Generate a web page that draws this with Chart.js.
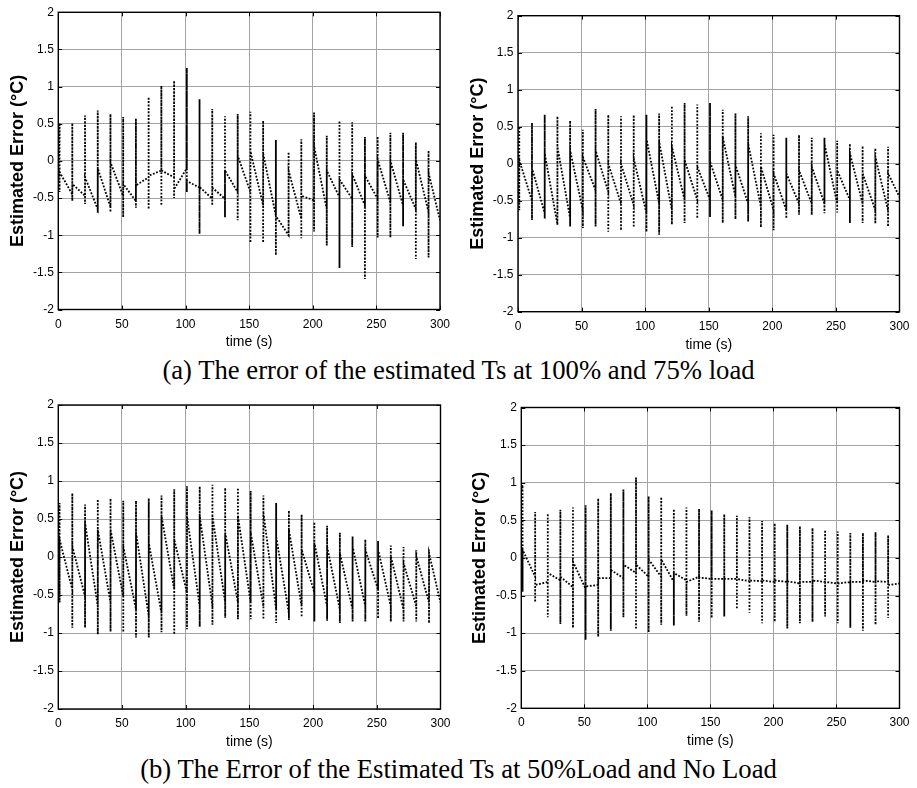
<!DOCTYPE html>
<html><head><meta charset="utf-8">
<script src="https://cdn.jsdelivr.net/npm/chart.js@4.4.1/dist/chart.umd.min.js"></script>
<style>
html,body{margin:0;padding:0;background:#fff;width:917px;height:788px;overflow:hidden;}
.panel{position:absolute;}
.cap{position:absolute;left:0;width:917px;text-align:center;font-family:'Liberation Serif','Times New Roman',serif;font-size:26.7px;line-height:26.7px;color:#000;white-space:nowrap;}
</style></head><body>
<div class="panel" id="w1"><canvas id="c1"></canvas></div>
<div class="panel" id="w2"><canvas id="c2"></canvas></div>
<div class="panel" id="w3"><canvas id="c3"></canvas></div>
<div class="panel" id="w4"><canvas id="c4"></canvas></div>
<div class="cap" style="top:356.6px">(a) The error of the estimated Ts at 100% and 75% load</div>
<div class="cap" style="top:756px">(b) The Error of the Estimated Ts at 50%Load and No Load</div>
<script>
// ---- data (time in s, error in °C) ----
const spikeTimes = [1,11,21,31,41,51,61,71,81,91,101,111,121,131,141,151,161,171,181,191,201,211,221,231,241,251,261,271,281,291];
const endTime = 300;
const xTicks = [0,50,100,150,200,250,300];
const yTicks = [-2,-1.5,-1,-0.5,0,0.5,1,1.5,2];
const xTitle = 'time (s)';
const yTitle = 'Estimated Error (°C)';

// (a) 100% load
const load100Pre    = [-0.40,-0.45,-0.47,-0.65,-0.62,-0.47,-0.54,-0.22,-0.13,-0.22,-0.10,-0.36,-0.51,-0.51,-0.42,-0.42,-0.60,-0.74,-1.00,-0.78,-0.53,-0.65,-0.49,-0.51,-0.60,-0.51,-0.56,-0.60,-0.65,-0.69];
const load100Peak   = [0.51,0.51,0.61,0.68,0.63,0.59,0.57,0.86,1.01,1.08,1.25,0.83,0.70,0.60,0.63,0.66,0.54,0.28,0.12,0.29,0.65,0.34,0.54,0.52,0.32,0.33,0.38,0.38,0.25,0.14];
const load100Trough = [-0.42,-0.54,-0.58,-0.70,-0.69,-0.76,-0.63,-0.65,-0.60,-0.50,-0.42,-0.98,-0.60,-0.76,-0.80,-1.10,-1.10,-1.27,-1.02,-1.04,-0.95,-1.14,-1.44,-1.16,-1.59,-1.03,-1.03,-0.88,-1.32,-1.30];
const load100Post   = [-0.15,-0.31,-0.22,-0.10,-0.02,-0.31,-0.33,-0.20,-0.13,-0.38,-0.27,-0.35,-0.36,-0.13,0.07,0.13,0.10,-0.74,-0.13,-0.47,0.20,-0.13,-0.25,-0.18,-0.20,0.02,0.00,-0.25,0.02,-0.16];
const load100End = -0.80;

// (a) 75% load
const load75Pre    = [-0.50,-0.50,-0.67,-0.82,-0.74,-0.63,-0.36,-0.38,-0.54,-0.56,-0.67,-0.54,-0.63,-0.49,-0.49,-0.49,-0.49,-0.45,-0.54,-0.58,-0.63,-0.63,-0.54,-0.54,-0.54,-0.54,-0.49,-0.54,-0.63,-0.63];
const load75Peak   = [0.50,0.55,0.66,0.64,0.58,0.46,0.74,0.66,0.64,0.66,0.66,0.68,0.78,0.82,0.80,0.82,0.73,0.68,0.64,0.41,0.39,0.35,0.39,0.35,0.35,0.31,0.27,0.24,0.21,0.23];
const load75Trough = [-0.63,-0.76,-0.74,-0.83,-0.85,-0.87,-0.85,-0.92,-0.90,-0.86,-0.92,-0.96,-0.82,-0.80,-0.74,-0.72,-0.80,-0.75,-0.78,-0.86,-0.90,-0.74,-0.69,-0.69,-0.67,-0.66,-0.80,-0.80,-0.81,-0.85];
const load75Post   = [0.05,-0.06,0.14,0.23,0.18,0.09,0.18,0.00,0.00,0.07,0.34,0.30,0.23,0.05,-0.04,0.03,0.36,-0.02,0.27,-0.04,-0.13,-0.13,-0.09,-0.04,0.27,-0.09,0.14,-0.13,0.09,-0.13];
const load75End = -0.45;

// (b) 50% load
const load50Pre    = [-0.55,-0.43,-0.52,-0.65,-0.60,-0.52,-0.69,-0.78,-0.74,-0.43,-0.47,-0.65,-0.65,-0.60,-0.60,-0.60,-0.65,-0.69,-0.74,-0.65,-0.47,-0.65,-0.69,-0.69,-0.65,-0.43,-0.65,-0.69,-0.65,-0.60];
const load50Peak   = [0.71,0.84,0.69,0.76,0.77,0.74,0.74,0.77,0.81,0.89,0.93,0.93,0.95,0.91,0.91,0.87,0.81,0.71,0.61,0.56,0.46,0.41,0.32,0.27,0.23,0.21,0.15,0.13,0.09,0.10];
const load50Trough = [-0.60,-0.93,-0.93,-1.02,-0.98,-0.99,-1.06,-1.06,-0.99,-1.02,-0.95,-0.92,-0.89,-0.80,-0.82,-0.82,-0.82,-0.87,-0.83,-0.79,-0.85,-0.84,-0.87,-0.85,-0.85,-0.81,-0.85,-0.85,-0.85,-0.87];
const load50Post   = [0.23,0.14,0.45,0.36,0.36,0.14,0.32,0.19,0.54,0.23,0.54,0.54,0.54,0.32,0.54,0.32,0.58,0.27,0.36,0.10,0.19,0.14,0.05,0.14,0.10,0.10,0.01,-0.08,0.01,0.05];
const load50End = -0.60;

// (b) no load
const noLoadPre    = [0.90,-0.25,-0.32,-0.30,-0.39,-0.41,-0.36,-0.27,-0.27,-0.20,-0.25,-0.25,-0.32,-0.30,-0.25,-0.28,-0.28,-0.28,-0.31,-0.31,-0.32,-0.32,-0.34,-0.32,-0.32,-0.34,-0.32,-0.32,-0.32,-0.32];
const noLoadPeak   = [0.97,0.61,0.59,0.64,0.67,0.70,0.79,0.86,0.91,1.07,0.82,0.81,0.65,0.67,0.65,0.63,0.58,0.56,0.54,0.49,0.46,0.44,0.42,0.40,0.37,0.35,0.33,0.33,0.34,0.30];
const noLoadTrough = [-0.45,-0.59,-0.79,-0.88,-0.93,-1.09,-1.05,-0.97,-0.79,-0.95,-0.99,-0.89,-0.90,-0.77,-0.85,-0.80,-0.78,-0.68,-0.73,-0.87,-0.85,-0.94,-0.87,-0.85,-0.78,-0.87,-0.93,-0.97,-0.89,-0.80];
const noLoadPost   = [0.11,-0.36,-0.20,-0.25,-0.05,-0.38,-0.27,-0.16,-0.09,-0.09,-0.02,-0.02,-0.20,-0.32,-0.26,-0.28,-0.28,-0.28,-0.30,-0.30,-0.30,-0.31,-0.32,-0.30,-0.32,-0.34,-0.32,-0.30,-0.31,-0.36];
const noLoadEnd = -0.34;

// ---- build the trace: decay to each spike, spike up/down, settle ----
function buildTrace(pre, peak, trough, post, endVal) {
  const pts = [{x: 0, y: pre[0]}];
  spikeTimes.forEach((t, i) => {
    if (i > 0) pts.push({x: t, y: pre[i]});
    pts.push({x: t, y: peak[i]});
    pts.push({x: t, y: trough[i]});
    pts.push({x: t, y: post[i]});
  });
  pts.push({x: endTime, y: endVal});
  return pts;
}

const framePlugin = {
  id: 'matlabFrame',
  afterDatasetsDraw(chart) {
    const {ctx, chartArea: a, scales: {x, y}} = chart;
    ctx.save();
    ctx.strokeStyle = '#000';
    ctx.lineWidth = 1;
    ctx.beginPath();
    x.ticks.forEach(t => {
      const px = Math.round(x.getPixelForValue(t.value)) + 0.5;
      ctx.moveTo(px, a.bottom); ctx.lineTo(px, a.bottom - 4);
      ctx.moveTo(px, a.top); ctx.lineTo(px, a.top + 4);
    });
    y.ticks.forEach(t => {
      const py = Math.round(y.getPixelForValue(t.value)) + 0.5;
      ctx.moveTo(a.left, py); ctx.lineTo(a.left + 4, py);
      ctx.moveTo(a.right, py); ctx.lineTo(a.right - 4, py);
    });
    ctx.stroke();
    ctx.lineWidth = 1.4;
    ctx.strokeRect(a.left, a.top, a.right - a.left, a.bottom - a.top);
    ctx.restore();
  }
};

const FONT = "'Liberation Sans', Arial, sans-serif";
const XH = 40;

function makePanel(id, boxLeft, boxTop, W, L, R, T, B, yTitleCenter, trace) {
  const wrap = document.getElementById('w' + id);
  const H = Math.ceil(B + XH + 2);
  wrap.style.left = boxLeft + 'px';
  wrap.style.top = boxTop + 'px';
  const cv = document.getElementById('c' + id);
  cv.width = W; cv.height = H;
  cv.style.width = W + 'px'; cv.style.height = H + 'px';
  new Chart(cv, {
    type: 'line',
    data: { datasets: [{
      data: trace,
      borderColor: '#000',
      borderWidth: 1.8,
      borderDash: [1.8, 1.6],
      pointRadius: 0,
      tension: 0,
      fill: false
    }]},
    options: {
      responsive: false,
      animation: false,
      devicePixelRatio: 1,
      layout: { padding: { left: 0, right: W - R, top: T, bottom: H - B - XH } },
      plugins: { legend: { display: false }, tooltip: { enabled: false } },
      scales: {
        x: {
          type: 'linear', min: xTicks[0], max: xTicks[xTicks.length - 1],
          afterBuildTicks: s => { s.ticks = xTicks.map(v => ({value: v})); },
          afterFit: s => { s.height = XH; },
          grid: { color: '#a3a3a3', lineWidth: 1, drawTicks: false },
          border: { display: false },
          ticks: { color: '#000', font: { family: FONT, size: 12 }, padding: 7.5, maxRotation: 0, autoSkip: false, callback: v => String(v) },
          title: { display: true, text: xTitle, color: '#000', font: { family: FONT, size: 14, lineHeight: 1 }, padding: { top: 0, bottom: 0 } }
        },
        y: {
          type: 'linear', min: yTicks[0], max: yTicks[yTicks.length - 1],
          afterBuildTicks: s => { s.ticks = yTicks.map(v => ({value: v})); },
          afterFit: s => { s.width = L; },
          grid: { color: '#a3a3a3', lineWidth: 1, drawTicks: false },
          border: { display: false },
          ticks: { color: '#000', font: { family: FONT, size: 12 }, padding: 4.5, autoSkip: false, callback: v => String(v) },
          title: { display: true, text: yTitle, color: '#000', font: { family: FONT, size: 18, weight: 'bold', lineHeight: 1.2 }, padding: { top: yTitleCenter - 10.8, bottom: 0 } }
        }
      }
    },
    plugins: [framePlugin]
  });
}

makePanel(1, 0,   0,   458, 58.3, 440,   12.3, 309.5, 18,
  buildTrace(load100Pre, load100Peak, load100Trough, load100Post, load100End));
makePanel(2, 458, 0,   459, 60,   441.7, 15.7, 311.7, 20,
  buildTrace(load75Pre, load75Peak, load75Trough, load75Post, load75End));
makePanel(3, 0,   392, 458, 58.3, 441.7, 13,   317,   18.3,
  buildTrace(load50Pre, load50Peak, load50Trough, load50Post, load50End));
makePanel(4, 458, 392, 459, 63.3, 445.7, 15.5, 316.3, 21.7,
  buildTrace(noLoadPre, noLoadPeak, noLoadTrough, noLoadPost, noLoadEnd));
</script>
</body></html>
